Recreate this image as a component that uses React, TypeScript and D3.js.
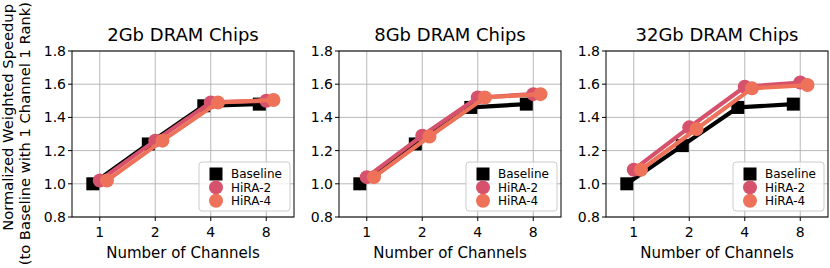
import React from "react";
import * as d3 from "d3";

const channels = ["1", "2", "4", "8"];
const panelTitles = ["2Gb DRAM Chips", "8Gb DRAM Chips", "32Gb DRAM Chips"];
const seriesNames = ["Baseline", "HiRA-2", "HiRA-4"];
const seriesColors = ["#000000", "#d6526c", "#ee7259"];
const yTicks = [0.8, 1.0, 1.2, 1.4, 1.6, 1.8];

const baseline2Gb = [1.0, 1.24, 1.47, 1.48];
const hira2_2Gb = [1.02, 1.26, 1.49, 1.5];
const hira4_2Gb = [1.02, 1.26, 1.49, 1.505];

const baseline8Gb = [1.0, 1.24, 1.46, 1.48];
const hira2_8Gb = [1.04, 1.29, 1.52, 1.54];
const hira4_8Gb = [1.04, 1.285, 1.52, 1.54];

const baseline32Gb = [1.0, 1.23, 1.46, 1.48];
const hira2_32Gb = [1.085, 1.34, 1.585, 1.61];
const hira4_32Gb = [1.085, 1.33, 1.575, 1.595];

const panelData = [
  [baseline2Gb, hira2_2Gb, hira4_2Gb],
  [baseline8Gb, hira2_8Gb, hira4_8Gb],
  [baseline32Gb, hira2_32Gb, hira4_32Gb],
];

const W = 830;
const H = 268;
const panelLefts = [72, 339, 606];
const panelW = 222;
const top = 51;
const bottom = 217;
const offsets = [-0.125, 0, 0.13];
const FONT = "DejaVu Sans, sans-serif";

function Panel({ idx }: { idx: number }) {
  const left = panelLefts[idx];
  const x = d3.scaleLinear().domain([-0.5, 3.5]).range([left, left + panelW]);
  const y = d3.scaleLinear().domain([0.8, 1.8]).range([bottom, top]);
  const series = panelData[idx];
  const line = d3
    .line<[number, number]>()
    .x((d) => x(d[0]))
    .y((d) => y(d[1]));

  const legW = 91;
  const legH = 49;
  const legX = left + panelW - 4 - legW;
  const legY = bottom - 6 - legH;

  return (
    <g>
      {yTicks.map((t) => (
        <line key={"gy" + t} x1={left} x2={left + panelW} y1={y(t)} y2={y(t)} stroke="#b0b0b0" strokeWidth={0.9} />
      ))}
      {channels.map((c, i) => (
        <line key={"gx" + c} x1={x(i)} x2={x(i)} y1={top} y2={bottom} stroke="#b0b0b0" strokeWidth={0.9} />
      ))}
      {series.map((vals, si) => {
        const pts: [number, number][] = vals.map((v, i) => [i + offsets[si], v]);
        return (
          <g key={"s" + si}>
            <path d={line(pts) || ""} fill="none" stroke={seriesColors[si]} strokeWidth={4.2} strokeLinejoin="round" />
            {pts.map((p, i) =>
              si === 0 ? (
                <rect key={i} x={x(p[0]) - 6.5} y={y(p[1]) - 6.5} width={13} height={13} fill={seriesColors[si]} />
              ) : (
                <circle key={i} cx={x(p[0])} cy={y(p[1])} r={7} fill={seriesColors[si]} />
              )
            )}
          </g>
        );
      })}
      <rect x={left} y={top} width={panelW} height={bottom - top} fill="none" stroke="#000" strokeWidth={1} />
      {yTicks.map((t) => (
        <g key={"yt" + t}>
          <line x1={left - 4} x2={left} y1={y(t)} y2={y(t)} stroke="#000" strokeWidth={1} />
          <text x={left - 6} y={y(t)} dy="0.36em" textAnchor="end" fontSize={14} fontFamily={FONT}>
            {t.toFixed(1)}
          </text>
        </g>
      ))}
      {channels.map((c, i) => (
        <g key={"xt" + c}>
          <line x1={x(i)} x2={x(i)} y1={bottom} y2={bottom + 4} stroke="#000" strokeWidth={1} />
          <text x={x(i)} y={bottom + 20} textAnchor="middle" fontSize={14} fontFamily={FONT}>
            {c}
          </text>
        </g>
      ))}
      <text x={left + panelW / 2} y={bottom + 41} textAnchor="middle" fontSize={15} fontFamily={FONT}>
        Number of Channels
      </text>
      <text x={left + panelW / 2} y={top - 10} textAnchor="middle" fontSize={18} fontFamily={FONT}>
        {panelTitles[idx]}
      </text>
      <rect x={legX} y={legY} width={legW} height={legH} rx={3} fill="#fff" fillOpacity={0.8} stroke="#cccccc" strokeWidth={1} />
      {seriesNames.map((n, si) => {
        const cy = legY + 12 + si * 13.4;
        const mx = legX + 17;
        return (
          <g key={"lg" + n}>
            {si === 0 ? (
              <rect x={mx - 6.5} y={cy - 6.5} width={13} height={13} fill={seriesColors[si]} />
            ) : (
              <circle cx={mx} cy={cy} r={7} fill={seriesColors[si]} />
            )}
            <text x={legX + 32} y={cy} dy="0.36em" fontSize={12} fontFamily={FONT}>
              {n}
            </text>
          </g>
        );
      })}
    </g>
  );
}

export default function App() {
  return (
    <svg width={W} height={H} style={{ position: "absolute", left: 0, top: 0, background: "#fff" }}>
      <rect x={0} y={0} width={W} height={H} fill="#fff" />
      {panelTitles.map((_, i) => (
        <Panel key={i} idx={i} />
      ))}
      <text transform={`translate(13,4) rotate(-90)`} textAnchor="end" fontSize={14.7} fontFamily={FONT}>
        Normalized Weighted Speedup
      </text>
      <text transform={`translate(30,2) rotate(-90)`} textAnchor="end" fontSize={14.7} fontFamily={FONT}>
        (to Baseline with 1 Channel 1 Rank)
      </text>
    </svg>
  );
}
